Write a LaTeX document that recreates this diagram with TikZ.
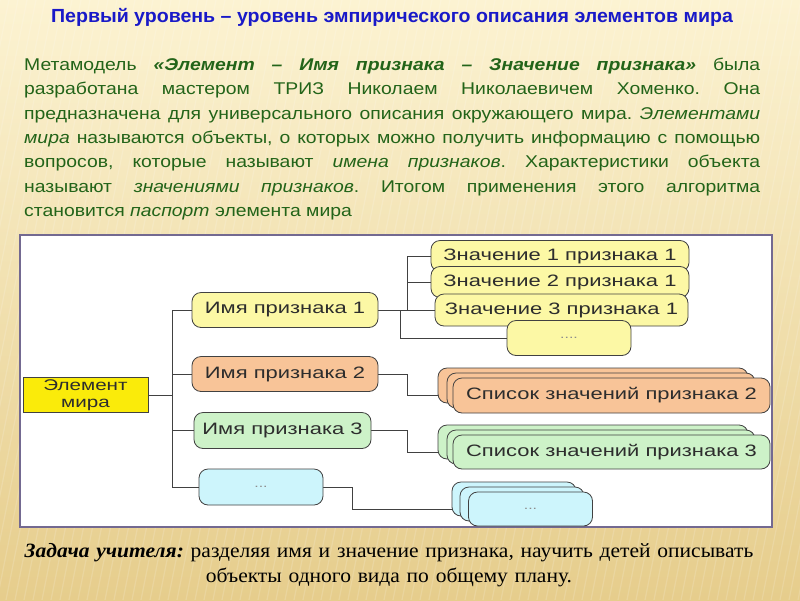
\documentclass[tikz,border=0pt]{standalone}
\usepackage{fontspec}
\setmainfont{Liberation Serif}
\newfontfamily\headfont[FakeStretch=1.03]{Liberation Sans}
\newfontfamily\parafont[FakeStretch=1.14]{Liberation Sans}
\newfontfamily\boxfont[FakeStretch=1.33]{Liberation Sans}
\newfontfamily\taskfont[FakeStretch=1.06]{Liberation Serif}
\hyphenpenalty=10000
\exhyphenpenalty=10000
\tolerance=9999
\frenchspacing

\definecolor{bgtop}{RGB}{252,243,210}
\definecolor{bgbot}{RGB}{230,205,140}
\definecolor{titleblue}{RGB}{25,25,200}
\definecolor{textgreen}{RGB}{35,100,25}
\definecolor{framegray}{RGB}{115,105,145}
\definecolor{boxline}{RGB}{65,65,65}
\definecolor{boxtext}{RGB}{45,45,45}
\definecolor{elemyellow}{RGB}{250,235,10}
\definecolor{paleyellow}{RGB}{252,248,165}
\definecolor{peach}{RGB}{248,196,152}
\definecolor{palegreen}{RGB}{205,242,200}
\definecolor{palecyan}{RGB}{205,245,252}

\pgfdeclarelayer{bg}
\pgfdeclarelayer{lines}
\pgfsetlayers{bg,lines,main}

\tikzset{
	box/.style={draw=boxline, line width=0.8pt, rounded corners=9pt, inner sep=0pt,
		font=\boxfont\fontsize{16.5}{18}\selectfont, text=boxtext, align=center},
	dots/.style={box, font=\boxfont\fontsize{12}{14}\selectfont, text=black!45},
	wire/.style={draw=boxline, line width=0.9pt}
}

\begin{document}
\begin{tikzpicture}[x=1pt, y=-1pt]
	\useasboundingbox (0,0) rectangle (800,600);
	\begin{pgfonlayer}{bg}
		\shade[top color=bgtop, bottom color=bgbot] (0,0) rectangle (800,600);
		\begin{scope}
			\clip (0,0) rectangle (800,600);
			\foreach \s in {-300,-291,...,800}
				\draw[white, opacity=0.15, line width=1.2pt] (\s,600) -- (\s+120,0);
		\end{scope}
		\draw[framegray, line width=2.2pt, fill=white] (20,235) rectangle (772,527);
	\end{pgfonlayer}

	% texts
	\node[anchor=base, inner sep=0pt, text=titleblue, font=\headfont\bfseries\fontsize{19}{21}\selectfont] (title) at (392,22)
		{Первый уровень – уровень эмпирического описания элементов мира};
	\node[anchor=north west, inner sep=0pt, text width=736pt, align=justify, text=textgreen,
		font=\parafont\fontsize{17}{24.3}\selectfont] (para) at (24,58)
		{Метамодель \textbf{\textit{«Элемент – Имя признака – Значение признака»}} была\linebreak
		разработана мастером ТРИЗ Николаем Николаевичем Хоменко. Она\linebreak
		предназначена для универсального описания окружающего мира. \textit{Элементами}\linebreak
		\textit{мира} называются объекты, о которых можно получить информацию с помощью\linebreak
		вопросов, которые называют \textit{имена признаков}. Характеристики объекта\linebreak
		называют \textit{значениями признаков}. Итогом применения этого алгоритма\linebreak
		становится \textit{паспорт} элемента мира};
	\node[anchor=north, inner sep=0pt, text width=750pt, align=center, font=\taskfont\fontsize{20.3}{25}\selectfont] (task) at (389,543.5)
		{\textbf{\textit{Задача учителя:}} разделяя имя и значение признака, научить детей описывать\\
		объекты одного вида по общему плану.};

	% element and names
	\node[box, rounded corners=0pt, fill=elemyellow, font=\boxfont\fontsize{15.5}{17}\selectfont,
		minimum width=125pt, minimum height=35pt] (elem) at (85.5,395) {Элемент\\мира};
	\node[box, fill=paleyellow, minimum width=186pt, minimum height=35pt] (name1) at (285,310) {Имя признака 1};
	\node[box, fill=peach, minimum width=186pt, minimum height=35pt] (name2) at (285,374) {Имя признака 2};
	\node[box, fill=palegreen, minimum width=177pt, minimum height=36pt] (name3) at (282.5,430.5) {Имя признака 3};
	\node[dots, fill=palecyan, minimum width=124pt, minimum height=36pt] (namedots) at (261,487) {...};

	% values of the first name
	\node[box, fill=paleyellow, minimum width=258pt, minimum height=31pt] (val1) at (560,256) {Значение 1 признака 1};
	\node[box, fill=paleyellow, minimum width=258pt, minimum height=31pt] (val2) at (560,282) {Значение 2 признака 1};
	\node[box, fill=paleyellow, minimum width=253pt, minimum height=32pt] (val3) at (561.5,310) {Значение 3 признака 1};
	\node[dots, fill=paleyellow, minimum width=124pt, minimum height=35pt] (valdots) at (569,338) {....};

	% stacked lists
	\node[box, fill=peach, minimum width=310pt, minimum height=35pt] (list2c) at (593,385.5) {};
	\node[box, fill=peach, minimum width=308pt, minimum height=35pt] (list2b) at (601,390.5) {};
	\node[box, fill=peach, minimum width=317pt, minimum height=35pt] (list2) at (611.5,395.5) {Список значений признака 2};
	\node[box, fill=palegreen, minimum width=310pt, minimum height=34pt] (list3c) at (593,442) {};
	\node[box, fill=palegreen, minimum width=308pt, minimum height=34pt] (list3b) at (601,447) {};
	\node[box, fill=palegreen, minimum width=317pt, minimum height=34pt] (list3) at (611.5,452) {Список значений признака 3};
	\node[box, fill=palecyan, minimum width=124pt, minimum height=34pt] (listdotsc) at (514,499) {};
	\node[box, fill=palecyan, minimum width=124pt, minimum height=34pt] (listdotsb) at (522,504) {};
	\node[dots, fill=palecyan, minimum width=124pt, minimum height=34pt] (listdots) at (530.5,509) {...};

	% connectors
	\coordinate (trunk) at (172,0);
	\coordinate (fork0) at (400,0);
	\coordinate (fork1) at (407.7,0);
	\coordinate (fork2) at (407,0);
	\coordinate (fork3) at (352.7,0);
	\begin{pgfonlayer}{lines}
		\draw[wire] (elem.east) -- (elem.east -| trunk);
		\draw[wire] (name1.west -| trunk) -- (namedots.west -| trunk);
		\foreach \n in {name1,name2,name3,namedots}
			\draw[wire] (\n.west -| trunk) -- (\n.west);
		\draw[wire] (name1.east) -- (val3.west);
		\draw[wire] (val1.west -| fork1) -- (val3.west -| fork1);
		\draw[wire] (val1.west -| fork1) -- (val1.west);
		\draw[wire] (val2.west -| fork1) -- (val2.west);
		\draw[wire] (name1.east -| fork0) |- (valdots.west);
		\draw[wire] (name2.east) -- (name2.east -| fork2) |- (list2.west);
		\draw[wire] (name3.east) -- (name3.east -| fork2) |- (list3.west);
		\draw[wire] (namedots.east) -- (namedots.east -| fork3) |- (listdots.west);
	\end{pgfonlayer}
\end{tikzpicture}
\end{document}
